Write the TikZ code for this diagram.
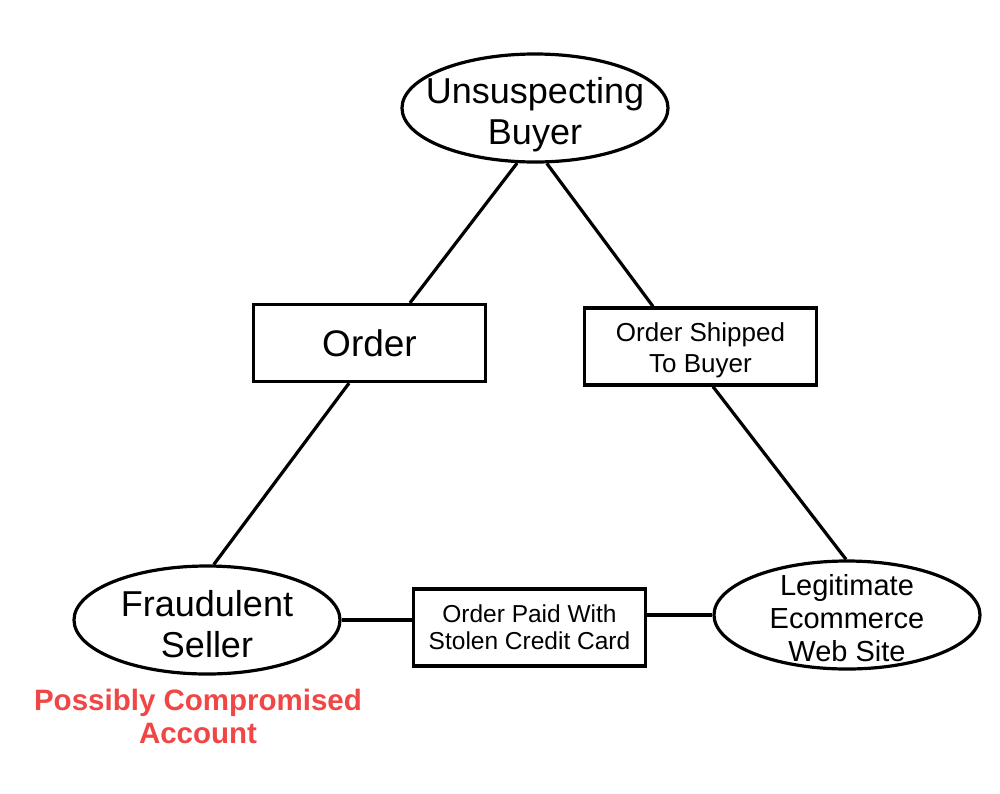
\documentclass[tikz,border=0pt]{standalone}
\usepackage{fontspec}
\setmainfont{Liberation Sans}
\usetikzlibrary{shapes.geometric,calc}
\definecolor{warnred}{RGB}{240,70,70}
\begin{document}
\begin{tikzpicture}[x=1pt,y=-1pt,
  oval/.style={ellipse, draw=black, line width=3.2pt, minimum width=266pt, minimum height=108pt, inner sep=0pt},
  box/.style={rectangle, draw=black, line width=3.2pt, minimum width=232pt, minimum height=77pt, inner sep=0pt, align=center},
  bigtext/.style={align=center, inner sep=0pt, font=\fontsize{36}{41}\selectfont},
  midtext/.style={align=center, inner sep=0pt, font=\fontsize{29}{33}\selectfont},
  link/.style={line width=3.2pt, draw=black}]
\fill[white] (0,0) rectangle (1000,793);
\useasboundingbox (0,0) rectangle (1000,793);

% ellipses
\node[oval] (buyer) at (535,108) {};
\node[bigtext, yshift=-7pt] (buyertext) at (buyer.center) {Unsuspecting\\Buyer};
\node[oval] (seller) at (207,620) {};
\node[bigtext, yshift=-4pt] (sellertext) at (seller.center) {Fraudulent\\Seller};
\node[oval] (legit) at (847,615) {};
\node[midtext, yshift=-3pt] (legittext) at (legit.center) {Legitimate\\Ecommerce\\Web Site};

% boxes
\node[box, font=\fontsize{37}{41}\selectfont] (order) at (369.5,343) {Order};
\node[box] (ship) at (700.5,346.5) {};
\node[align=center, inner sep=0pt, font=\fontsize{26}{31}\selectfont, yshift=-4pt] (shiptext) at (ship.center) {Order Shipped\\To Buyer};
\node[box, font=\fontsize{24.5}{27}\selectfont] (paid) at (529.5,627.5) {Order Paid With\\Stolen Credit Card};

% red note
\node[align=center, inner sep=0pt, text=warnred, font=\fontsize{29.5}{33}\selectfont\bfseries] (note) at (198,716) {Possibly Compromised\\Account};

% connectors
\draw[link] (buyer.252) -- ($(order.north west)!0.672!(order.north east)$);
\draw[link] ($(order.south west)!0.413!(order.south east)$) -- (seller.83);
\draw[link] (buyer.282) -- ($(ship.north west)!0.298!(ship.north east)$);
\draw[link] ($(ship.south west)!0.553!(ship.south east)$) -- (legit.91);
\draw[link] (seller.east) -- (seller.east -| paid.west);
\draw[link] (paid.east |- legit.west) -- (legit.west);
\end{tikzpicture}
\end{document}
